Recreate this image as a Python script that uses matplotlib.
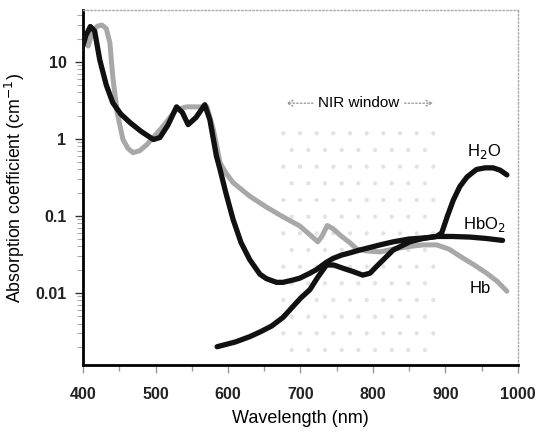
import numpy as np
import matplotlib
matplotlib.use("Agg")
import matplotlib.pyplot as plt
from matplotlib.patches import Rectangle

plt.rcParams['font.family'] = ['Liberation Sans', 'DejaVu Sans']
plt.rcParams['hatch.linewidth'] = 0.6

# values (wavelength nm, absorption cm^-1)
hbo2_wl = [398, 404, 410, 416, 423, 432, 441, 452, 465, 480, 497, 506, 517, 529, 537, 545,
           556, 568, 575, 584, 589, 597, 607, 618, 630, 644, 653, 667, 676, 690, 699, 713,
           722, 736, 745, 757, 768, 782, 810, 828, 850, 874, 888, 910, 934, 955, 979]
hbo2_ab = [14.3, 22, 28.7, 25, 10.6, 5.0, 2.94, 2.1, 1.62, 1.25, 0.98, 1.04, 1.5, 2.6, 2.2, 1.53,
           1.9, 2.77, 1.77, 0.6, 0.4, 0.2, 0.09, 0.045, 0.027, 0.0175, 0.0153, 0.0137, 0.0137, 0.0147, 0.0155, 0.018,
           0.02, 0.025, 0.028, 0.031, 0.033, 0.036, 0.042, 0.046, 0.05, 0.052, 0.054, 0.054, 0.053, 0.051, 0.048]

hb_wl = [400, 407, 414, 420, 426, 432, 437, 441, 447, 455, 462, 469, 478, 488, 499, 510, 520,
         529, 543, 561, 571, 580, 589, 597, 607, 630, 653, 676, 699, 712, 724, 730, 737, 745,
         756, 768, 778, 791, 810, 828, 850, 870, 888, 905, 920, 940, 957, 972, 985]
hb_ab = [21, 16, 26, 29, 30, 27, 17.6, 6.4, 2.2, 0.98, 0.75, 0.66, 0.7, 0.84, 1.1, 1.44, 1.9,
         2.4, 2.6, 2.6, 2.6, 1.3, 0.49, 0.36, 0.27, 0.18, 0.13, 0.097, 0.074, 0.058, 0.046, 0.055, 0.075, 0.068,
         0.055, 0.045, 0.037, 0.035, 0.034, 0.037, 0.04, 0.042, 0.042, 0.037, 0.03, 0.023, 0.018, 0.014, 0.0105]

h2o_wl = [585, 610, 630, 644, 660, 676, 690, 700, 713, 724, 736, 746, 758, 772, 786, 796, 805,
          828, 851, 870, 888, 895, 903, 911, 920, 930, 943, 955, 966, 976, 985]
h2o_ab = [0.002, 0.0023, 0.0027, 0.0031, 0.0037, 0.0048, 0.0067, 0.0085, 0.011, 0.016, 0.023, 0.023, 0.021, 0.019, 0.017, 0.018, 0.022,
          0.036, 0.046, 0.051, 0.054, 0.06, 0.1, 0.16, 0.24, 0.32, 0.4, 0.42, 0.42, 0.39, 0.34]

x_ticks = [400, 500, 600, 700, 800, 900, 1000]
y_ticks = [0.01, 0.1, 1, 10]
y_labels = ['0.01', '0.1', '1', '10']

fig = plt.figure(figsize=(5.36, 4.36), dpi=100)
ax = fig.add_axes([0.155, 0.163, 0.811, 0.814])

# NIR window shading (sparse dots)
ax.add_patch(Rectangle((672, 0.00116), 218, 1.77 - 0.00116, facecolor='none',
                       edgecolor='#e2e2e2', hatch='.', linewidth=0, zorder=0))

ax.plot(hb_wl, hb_ab, color='#a8a8a8', lw=3.6, solid_capstyle='round', solid_joinstyle='round', zorder=2)
ax.plot(hbo2_wl, hbo2_ab, color='#111111', lw=3.8, solid_capstyle='round', solid_joinstyle='round', zorder=3)
ax.plot(h2o_wl, h2o_ab, color='#111111', lw=3.8, solid_capstyle='round', solid_joinstyle='round', zorder=3)

ax.set_yscale('log')
ax.set_xlim(400, 1000)
ax.set_ylim(0.00116, 47)
ax.set_xticks(x_ticks)
ax.set_xticks([450, 550, 650, 750, 850, 950], minor=True)
ax.set_yticks(y_ticks)
ax.set_yticklabels(y_labels)

ax.tick_params(axis='both', labelsize=11.5)
ax.tick_params(axis='x', which='both', direction='out', color='#999999', length=6, width=1, pad=10)
ax.tick_params(axis='x', which='minor', length=4)
ax.tick_params(axis='y', which='major', direction='out', color='#333333', length=6, width=1, pad=6)
ax.tick_params(axis='y', which='minor', direction='out', color='#aaaaaa', length=4, width=0.8)
for lab in ax.get_xticklabels() + ax.get_yticklabels():
    lab.set_fontweight('bold')
    lab.set_color('#222222')

ax.spines['left'].set_linewidth(2)
ax.spines['bottom'].set_linewidth(2)
for s in ['top', 'right']:
    ax.spines[s].set_color('#aaaaaa')
    ax.spines[s].set_linestyle(':')
    ax.spines[s].set_linewidth(1)

ax.set_xlabel('Wavelength (nm)', fontsize=13, labelpad=6)
ax.set_ylabel('Absorption coefficient (cm$^{-1}$)', fontsize=12.8, labelpad=6)

# NIR window label and arrows
ax.text(780, 2.9, 'NIR window', ha='center', va='center', fontsize=11)
ax.annotate('', xy=(676, 2.9), xytext=(721, 2.9),
            arrowprops=dict(arrowstyle='->', color='#999999', lw=1, linestyle=':'))
ax.annotate('', xy=(887, 2.9), xytext=(840, 2.9),
            arrowprops=dict(arrowstyle='->', color='#999999', lw=1, linestyle=':'))

ax.text(930, 0.68, 'H$_2$O', ha='left', va='center', fontsize=12)
ax.text(924, 0.077, 'HbO$_2$', ha='left', va='center', fontsize=12)
ax.text(934, 0.0115, 'Hb', ha='left', va='center', fontsize=12)

fig.savefig('out.png', dpi=100)
